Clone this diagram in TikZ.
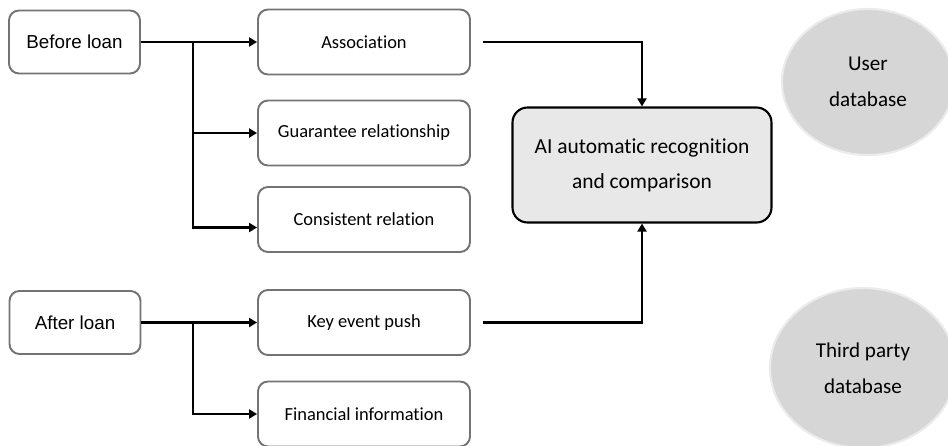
\documentclass[tikz,border=0pt]{standalone}
\usepackage{fontspec}
\setmainfont{Carlito}[Ligatures=NoCommon]
\newfontfamily\arialfont{Liberation Sans}
\usetikzlibrary{arrows.meta,shapes.geometric}

\tikzset{
	box/.style={draw=black!55, line width=1.1pt, rounded corners=0.2cm, minimum width=4.24cm, minimum height=1.3cm, font=\fontsize{10.5}{12}\selectfont},
	loanbox/.style={box, minimum width=2.62cm, minimum height=1.26cm, font=\arialfont\fontsize{10.7}{12}\selectfont},
	aibox/.style={draw=black, line width=1.2pt, fill=black!9, rounded corners=0.3cm, minimum width=5.18cm, minimum height=2.3cm, align=center, font=\fontsize{12.2}{20}\selectfont},
	dbnode/.style={ellipse, inner sep=0pt, fill=black!16, draw=black!8, line width=1.2pt, align=center, font=\fontsize{12}{20.5}\selectfont},
	link/.style={line width=1.3pt, -{Triangle[length=1.6mm,width=1.8mm]}},
	feed/.style={line width=1.4pt, -{Triangle[length=1.6mm,width=1.8mm]}}
}

\begin{document}
\begin{tikzpicture}
		\useasboundingbox (0,0) rectangle (18.96,-8.92);
		%%%%% START %%%%%
		% left column
		\node[loanbox] (before) at (1.49,-0.84) {Before loan};
		\node[loanbox] (after) at (1.50,-6.45) {After loan};
		
		% middle column
		\node[box] (assoc) at (7.28,-0.84) {Association};
		\node[box] (guar) at (7.28,-2.66) {Guarantee relationship};
		\node[box] (cons) at (7.28,-4.39) {Consistent relation};
		\node[box] (keyev) at (7.28,-6.45) {Key event push};
		\node[box] (fin) at (7.28,-8.28) {Financial information};
		
		% recognition box and the two databases
		\node[aibox] (ai) at (12.84,-3.30) {AI automatic recognition\\and comparison};
		\node[dbnode, minimum width=3.44cm, minimum height=2.92cm] (userdb) at (17.36,-1.64) {User\\database};
		\node[dbnode, minimum width=3.72cm, minimum height=3.2cm] (thirddb) at (17.26,-7.36) {Third party\\database};
		
		% branches
		\coordinate (bsplit) at (3.86,-0.84);
		\coordinate (asplit) at (3.86,-6.45);
		\draw[link] (before.east) -- (assoc.west);
		\draw[link] (bsplit) |- (guar.west);
		\draw[link] (bsplit) |- ([yshift=-0.16cm]cons.west);
		\draw[link] (after.east) -- (keyev.west);
		\draw[link] (asplit) |- (fin.west);
		
		% into the recognition box
		\draw[feed] ([xshift=0.24cm]assoc.east) -| (ai.north);
		\draw[feed] ([xshift=0.24cm]keyev.east) -| (ai.south);
		%%%%% END %%%%%
\end{tikzpicture}
\end{document}
